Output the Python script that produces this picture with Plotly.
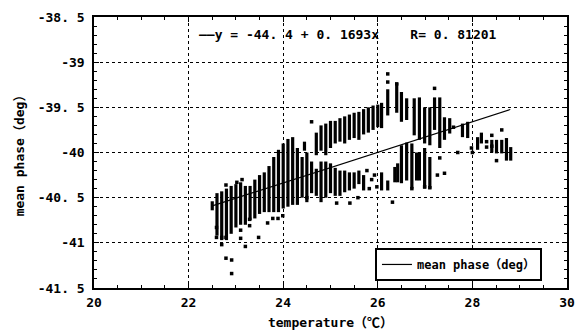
import plotly.graph_objects as go

# ---------------- data ----------------
# dense vertical runs of observations: temperature, lowest and highest mean phase of the run
col_t = [22.50, 22.60, 22.70, 22.80, 22.90, 23.00, 23.10, 23.20, 23.30, 23.40,
         23.50, 23.60, 23.70, 23.80, 23.90, 24.00, 24.10, 24.20, 24.30,
         # lower band 24.4 - 26.0
         24.40, 24.50, 24.60, 24.70, 24.80, 24.90, 25.00, 25.10, 25.20, 25.30,
         25.40, 25.50, 25.60, 25.70,
         # upper band 24.4 - 26.0
         24.45, 24.70, 24.80, 24.90, 25.00, 25.10, 25.20, 25.30, 25.40, 25.50,
         25.60, 25.70, 25.80, 25.90, 26.00,
         # upper band 26.1 - 27.9
         26.08, 26.21, 26.40, 26.50, 26.61, 26.77, 26.88, 26.99, 27.10, 27.20,
         27.31, 27.41, 27.52, 27.79, 27.90,
         # lower band 26.1 - 27.1
         26.08, 26.21, 26.36, 26.42, 26.50, 26.61, 26.72, 26.82, 26.88, 26.99, 27.10,
         # warm end
         28.11, 28.19, 28.41, 28.51, 28.62, 28.72, 28.81]
col_lo = [-40.64, -40.92, -40.97, -40.97, -40.90, -40.83, -40.80, -40.80, -40.75, -40.73,
          -40.68, -40.66, -40.66, -40.66, -40.66, -40.62, -40.60, -40.58, -40.58,
          -40.50, -40.55, -40.45, -40.48, -40.55, -40.50, -40.45, -40.48, -40.48, -40.44,
          -40.42, -40.40, -40.35, -40.42,
          -39.98, -40.03, -39.98, -40.03, -39.95, -39.90, -39.88, -39.90, -39.86, -39.84,
          -39.86, -39.80, -39.78, -39.75, -39.72,
          -39.73, -39.59, -39.56, -39.66, -39.64, -39.81, -39.86, -39.90, -39.92, -39.75,
          -39.95, -39.86, -39.79, -39.83, -39.84,
          -40.42, -40.42, -40.33, -40.33, -40.34, -40.31, -40.40, -40.31, -40.31, -40.40, -40.40,
          -39.97, -39.90, -40.00, -40.01, -40.01, -40.09, -40.09]
col_hi = [-40.54, -40.45, -40.43, -40.40, -40.37, -40.35, -40.33, -40.37, -40.37, -40.30,
          -40.25, -40.22, -40.15, -40.05, -39.97, -39.90, -39.85, -39.83, -39.95,
          -40.05, -40.00, -40.10, -40.18, -40.10, -40.10, -40.12, -40.17, -40.20, -40.20,
          -40.22, -40.22, -40.20, -40.25,
          -39.88, -39.78, -39.70, -39.68, -39.65, -39.65, -39.62, -39.60, -39.58, -39.56,
          -39.55, -39.52, -39.50, -39.48, -39.47,
          -39.45, -39.30, -39.23, -39.33, -39.40, -39.40, -39.39, -39.50, -39.50, -39.39,
          -39.39, -39.61, -39.62, -39.68, -39.66,
          -40.22, -40.31, -40.16, -40.12, -39.92, -39.89, -39.90, -40.00, -40.00, -39.95, -40.05,
          -39.83, -39.78, -39.86, -39.86, -39.86, -39.84, -39.94]

# isolated observations
pt_t = [22.59, 22.59, 22.70, 22.70, 22.79, 22.79, 22.91, 22.91, 23.10, 23.10,
        23.20, 23.29, 23.29, 23.48, 23.67, 23.78, 23.89, 23.99,
        22.79, 23.02, 23.13,
        24.60, 26.21, 26.21, 26.40, 27.20,
        24.50, 25.13, 25.41, 25.58, 25.77, 25.87, 25.98, 25.82, 25.93,
        26.31, 26.72, 26.99, 27.10, 27.26, 27.41, 27.31, 27.69, 27.60,
        27.98, 28.00, 28.30, 28.30, 28.41, 28.41, 28.51, 28.62]
pt_v = [-40.83, -40.94, -41.02, -40.94, -40.94, -41.17, -41.19, -41.34, -40.86, -40.95,
        -41.04, -40.74, -40.81, -40.94, -40.78, -40.73, -40.73, -40.70,
        -40.36, -40.33, -40.30,
        -39.66, -39.13, -39.22, -39.24, -39.29,
        -40.50, -40.56, -40.56, -40.50, -40.20, -40.30, -40.38, -40.40, -40.25,
        -40.55, -40.40, -40.38, -40.39, -40.25, -40.23, -40.06, -40.00, -39.72,
        -39.95, -40.00, -39.88, -39.94, -39.81, -39.93, -40.09, -39.75]

# regression reported on the chart
intercept = -44.4
slope = 0.1693
r_value = 0.81201
fit_range = [22.5, 28.8]

x_ticks = [20, 22, 24, 26, 28, 30]
y_ticks = [-41.5, -41, -40.5, -40, -39.5, -39, -38.5]
y_ticktext = ["-41. 5", "-41", "-40. 5", "-40", "-39. 5", "-39", "-38. 5"]

# ---------------- figure ----------------
FONT = "DejaVu Sans Mono, Noto Sans CJK JP, monospace"

seg_x, seg_y = [], []
for t, lo, hi in zip(col_t, col_lo, col_hi):
    seg_x += [t, t, None]
    seg_y += [lo, hi, None]

fig = go.Figure()
fig.add_trace(go.Scatter(x=seg_x, y=seg_y, mode="lines",
                         line=dict(color="black", width=3.2),
                         showlegend=False, hoverinfo="skip"))
fig.add_trace(go.Scatter(x=pt_t, y=pt_v, mode="markers",
                         marker=dict(symbol="square", size=3.5, color="black"),
                         showlegend=False))
fig.add_trace(go.Scatter(x=fit_range,
                         y=[intercept + slope * v for v in fit_range],
                         mode="lines", line=dict(color="black", width=1.2),
                         name="mean phase（deg）", showlegend=True))

tfont = dict(family=FONT, size=13, color="black", weight="bold")

axis_common = dict(showline=True, linecolor="black", linewidth=1.5, mirror="allticks",
                   ticks="inside", ticklen=5, tickcolor="black", tickwidth=1,
                   showgrid=True, gridcolor="black", gridwidth=1, griddash="dot",
                   zeroline=False, tickfont=tfont, automargin=False)

fig.update_xaxes(range=[20, 30], tickvals=x_ticks, **axis_common,
                 minor=dict(dtick=0.5, ticks="inside", ticklen=3, tickcolor="black", showgrid=False),
                 ticklabelstandoff=2,
                 title=dict(text="temperature（℃）", font=tfont, standoff=9))
fig.update_yaxes(range=[-41.5, -38.5], tickvals=y_ticks, ticktext=y_ticktext, **axis_common,
                 minor=dict(dtick=0.1, ticks="inside", ticklen=3, tickcolor="black", showgrid=False),
                 ticklabelstandoff=5,
                 title=dict(text="mean phase（deg）", font=tfont, standoff=10))

eq_text = "——y = -44. 4 + 0. 1693x    R= 0. 81201"
fig.add_annotation(xref="paper", yref="paper", x=0.218, y=0.937, xanchor="left", yanchor="middle",
                   text=eq_text, showarrow=False, font=tfont)

# the page body has an 8 px margin, so the figure is sized to fit inside the window
fig.update_layout(
    width=577, height=325,
    margin=dict(l=86, r=18, t=9, b=45),
    plot_bgcolor="white", paper_bgcolor="white",
    legend=dict(x=0.594, y=0.026, xanchor="left", yanchor="bottom",
                bordercolor="black", borderwidth=2, bgcolor="white",
                itemwidth=30, tracegroupgap=0,
                font=dict(family=FONT, size=12, color="black", weight="bold")),
)

fig.write_html("out.html")
